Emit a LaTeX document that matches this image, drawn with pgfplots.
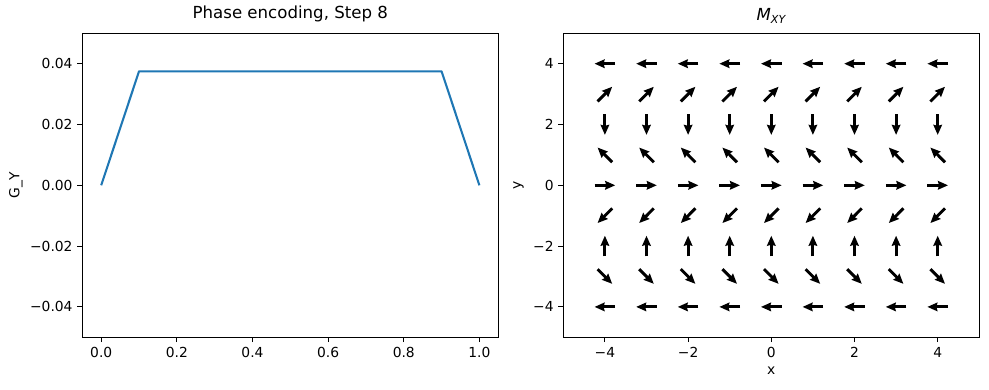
\documentclass[border=0pt]{standalone}
\usepackage{fontspec}
\setmainfont{DejaVu Sans}
\usepackage{pgfplots}
\pgfplotsset{compat=1.18}
\usepackage{pgfplotstable}
\usetikzlibrary{arrows.meta}

\pgfplotstableread{
t g
0 0
0.1 0.0375
0.9 0.0375
1.0 0
}\gdata

\pgfplotstableread{
x y u v
-4 4 -0.497 0
-3 4 -0.497 0
-2 4 -0.497 0
-1 4 -0.497 0
0 4 -0.497 0
1 4 -0.497 0
2 4 -0.497 0
3 4 -0.497 0
4 4 -0.497 0
-4 3 0.351 0.483
-3 3 0.351 0.483
-2 3 0.351 0.483
-1 3 0.351 0.483
0 3 0.351 0.483
1 3 0.351 0.483
2 3 0.351 0.483
3 3 0.351 0.483
4 3 0.351 0.483
-4 2 0 -0.683
-3 2 0 -0.683
-2 2 0 -0.683
-1 2 0 -0.683
0 2 0 -0.683
1 2 0 -0.683
2 2 0 -0.683
3 2 0 -0.683
4 2 0 -0.683
-4 1 -0.351 0.483
-3 1 -0.351 0.483
-2 1 -0.351 0.483
-1 1 -0.351 0.483
0 1 -0.351 0.483
1 1 -0.351 0.483
2 1 -0.351 0.483
3 1 -0.351 0.483
4 1 -0.351 0.483
-4 0 0.497 0
-3 0 0.497 0
-2 0 0.497 0
-1 0 0.497 0
0 0 0.497 0
1 0 0.497 0
2 0 0.497 0
3 0 0.497 0
4 0 0.497 0
-4 -1 -0.351 -0.483
-3 -1 -0.351 -0.483
-2 -1 -0.351 -0.483
-1 -1 -0.351 -0.483
0 -1 -0.351 -0.483
1 -1 -0.351 -0.483
2 -1 -0.351 -0.483
3 -1 -0.351 -0.483
4 -1 -0.351 -0.483
-4 -2 0 0.683
-3 -2 0 0.683
-2 -2 0 0.683
-1 -2 0 0.683
0 -2 0 0.683
1 -2 0 0.683
2 -2 0 0.683
3 -2 0 0.683
4 -2 0 0.683
-4 -3 0.351 -0.483
-3 -3 0.351 -0.483
-2 -3 0.351 -0.483
-1 -3 0.351 -0.483
0 -3 0.351 -0.483
1 -3 0.351 -0.483
2 -3 0.351 -0.483
3 -3 0.351 -0.483
4 -3 0.351 -0.483
-4 -4 -0.497 0
-3 -4 -0.497 0
-2 -4 -0.497 0
-1 -4 -0.497 0
0 -4 -0.497 0
1 -4 -0.497 0
2 -4 -0.497 0
3 -4 -0.497 0
4 -4 -0.497 0
}\quiverdata

\definecolor{mplblue}{RGB}{31,119,180}

\pgfplotsset{
  common/.style={
    scale only axis,
    width=4.16in, height=3.04in,
    axis line style={line width=0.8pt},
    tick align=outside,
    tick pos=left,
    major tick length=0.0486in,
    tick style={line width=0.8pt, black},
    scaled ticks=false,
    /pgf/number format/assume math mode=true,
    tick label style={font=\fontsize{10}{12}\selectfont},
    label style={font=\fontsize{10}{12}\selectfont},
    title style={font=\fontsize{12}{14}\selectfont},
  }
}

\begin{document}
\begin{tikzpicture}[font=\fontsize{10}{12}\selectfont]
\begin{axis}[common,
  xmin=-0.05, xmax=1.05, ymin=-0.05, ymax=0.05,
  xtick={0,0.2,0.4,0.6,0.8,1.0},
  xticklabels={0.0,0.2,0.4,0.6,0.8,1.0},
  ytick={-0.04,-0.02,0,0.02,0.04},
  yticklabels={−0.04,−0.02,0.00,0.02,0.04},
  ylabel={G\_Y},
  ylabel style={xshift=0in, yshift=-0.02in},
  title style={yshift=-0.02in},
  title={Phase encoding, Step 8}]
\addplot[color=mplblue, line width=1.5pt, line join=round] table[x=t, y=g]{\gdata};
\end{axis}

\begin{axis}[common, at={(4.81in,0)},
  xmin=-5, xmax=5, ymin=-5, ymax=5,
  xtick={-4,-2,0,2,4}, xticklabels={−4,−2,0,2,4},
  ytick={-4,-2,0,2,4}, yticklabels={−4,−2,0,2,4},
  xlabel={x}, ylabel={y},
  title style={yshift=-0.03in},
  title={\itshape M\textsubscript{XY}}]
\addplot[black, line width=0.029in,
  -{Stealth[length=0.10in, width=0.085in, inset=0.01in]},
  quiver={u=\thisrow{u}, v=\thisrow{v}}]
  table[x expr=\thisrow{x}-0.5*\thisrow{u}, y expr=\thisrow{y}-0.5*\thisrow{v}]{\quiverdata};
\end{axis}
\pgfresetboundingbox
\path[use as bounding box] (-0.823in,-0.527in) rectangle (9.067in,3.373in);
\end{tikzpicture}
\end{document}
